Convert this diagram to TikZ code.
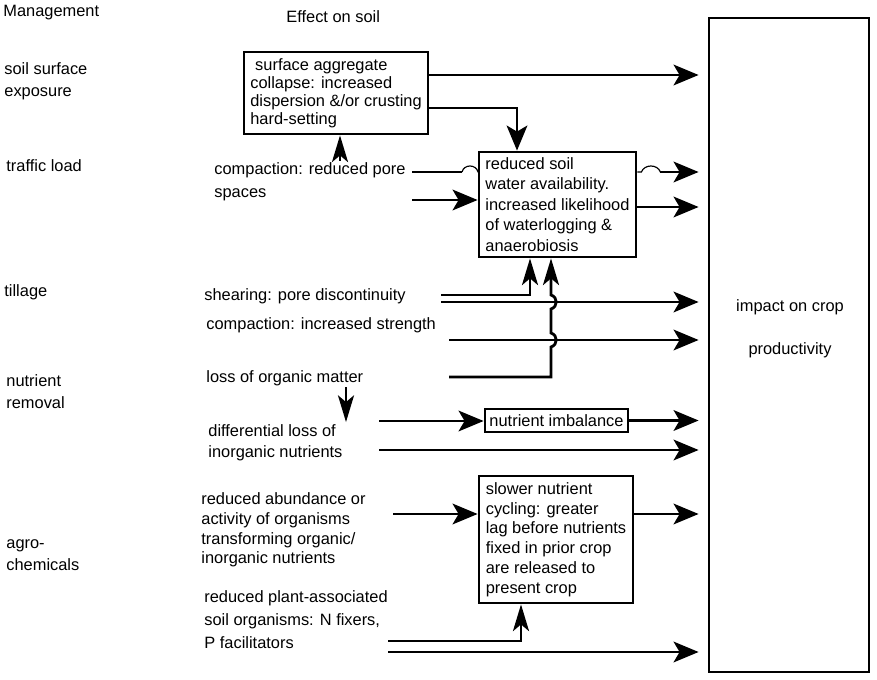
\documentclass[tikz,border=0pt]{standalone}
\usepackage{fontspec}
\setmainfont{Liberation Sans}
\usetikzlibrary{arrows.meta}

\begin{document}
\begin{tikzpicture}[x=0.03cm,y=-0.03cm,line width=2.4pt,
  font=\fontsize{14}{17}\selectfont,
  txt/.style={anchor=west,inner sep=0pt,align=left},
  lsp/.style={font=\fontsize{14}{#1}\selectfont},
  box/.style={draw,inner sep=0pt,align=left},
  arr/.style={-{Stealth[length=0.75cm,width=0.62cm,inset=0.18cm]}},
  narr/.style={-{Stealth[length=0.8cm,width=0.48cm,inset=0.2cm]}},
  toimp/.style={arr,shorten >=0.27cm}]
\useasboundingbox (0,0) rectangle (877,680);
\node[txt] (mgmt) at (2,13) {Management};
\node[txt] (effect) at (285,17) {Effect on soil};
\node[txt,lsp=18.8pt] (surface) at (3,81) {soil surface\\exposure};
\node[txt] (traffic) at (5,166) {traffic load};
\node[txt] (tillage) at (3,292) {tillage};
\node[txt,lsp=18.8pt] (nutrient) at (5,392) {nutrient\\removal};
\node[txt,lsp=18.8pt] (agro) at (5,555) {agro-\\chemicals};
\node[txt,lsp=19.6pt] (compact) at (213,181.5) {compaction: reduced pore\\spaces};
\node[txt] (shear) at (203,296) {shearing: pore discontinuity};
\node[txt] (strength) at (205,325) {compaction: increased strength};
\node[txt] (organic) at (205,378) {loss of organic matter};
\node[txt,lsp=17.9pt] (diffloss) at (207,442.5) {differential loss of\\inorganic nutrients};
\node[txt,lsp=16.8pt] (abund) at (200,530) {reduced abundance or\\activity of organisms\\transforming organic/\\inorganic nutrients};
\node[txt,lsp=19.6pt] (plant) at (203,620) {reduced plant-associated\\soil organisms: N fixers,\\P facilitators};
\node[box,lsp=15.4pt,minimum width=5.52cm,minimum height=2.46cm] (crust) at (336,93)
  {\hspace{.3em}surface aggregate\\collapse: increased\\dispersion \&/or crusting\\hard-setting};
\node[box,lsp=17.5pt,minimum width=4.71cm,minimum height=3.15cm] (water) at (557.5,204.5)
  {reduced soil\\water availability.\\increased likelihood\\of waterlogging \&\\anaerobiosis};
\node[box,minimum width=4.29cm,minimum height=0.69cm] (imbal) at (556.5,420.5) {nutrient imbalance};
\node[box,lsp=16.9pt,minimum width=4.62cm,minimum height=3.81cm] (cycling) at (556,539.5)
  {slower nutrient\\cycling: greater\\lag before nutrients\\fixed in prior crop\\are released to\\present crop};
\node[draw,minimum width=4.8cm,minimum height=19.62cm] (impact) at (789,345) {};
\node[align=center,lsp=36.7pt] (impacttxt) at (790,328.5) {impact on crop\\productivity};
\coordinate (c1) at (412,172);
\coordinate (c2) at (412,200);
\coordinate (c3) at (441,295);
\coordinate (c4) at (441,302);
\coordinate (c5) at (449,340);
\coordinate (c6) at (449,377);
\coordinate (c8) at (379,421);
\coordinate (c9) at (379,450);
\coordinate (c10) at (393,514);
\coordinate (c11) at (388,641);
\coordinate (c12) at (388,652);
\draw[toimp] (crust.east |- 0,75) -- (impact.west |- 0,75);
\draw[arr] (crust.east |- 0,108) -| (water.north -| 517,0);
\draw[narr] (compact.north -| 340,0) -- (crust.south -| 340,0);
\draw (c1) -- ++(50,0);
\draw[line width=1pt] (c1) ++(50,0) .. controls +(2,-8) and +(-2,-8) .. ++(16,0) -- (water.west |- c1);
\draw[arr] (c2) -- (c2 -| water.west);
\draw[line width=1pt] (water.east |- c1) -- ++(4,0) .. controls +(3,-8) and +(-3,-8) .. ++(19,0);
\draw[toimp] (water.east |- c1) ++(23,0) -- (c1 -| impact.west);
\draw[toimp] (water.east |- 0,207) -- (impact.west |- 0,207);
\draw[narr] (c3) -| (water.south -| 530,0);
\draw[toimp] (c4) -- (c4 -| impact.west);
\draw[toimp] (c5) -- (c5 -| impact.west);
\draw[narr] (c6) -- ++(102,0) -- ++(0,-30) .. controls +(7,-2) and +(7,2) .. ++(0,-14)
  -- ++(0,-24) .. controls +(7,-2) and +(7,2) .. ++(0,-14) -- (water.south -| 551,0);
\draw[narr] (organic.south -| 346,0) -- ++(0,35);
\draw[arr] (c8) -- (c8 -| imbal.west);
\draw[toimp] (imbal.east) -- (imbal.east -| impact.west);
\draw[toimp] (c9) -- (c9 -| impact.west);
\draw[arr] (c10) -- (c10 -| cycling.west);
\draw[toimp] (cycling.east |- c10) -- (c10 -| impact.west);
\draw[narr] (c11) -| (cycling.south -| 521,0);
\draw[toimp] (c12) -- (c12 -| impact.west);
\end{tikzpicture}
\end{document}
